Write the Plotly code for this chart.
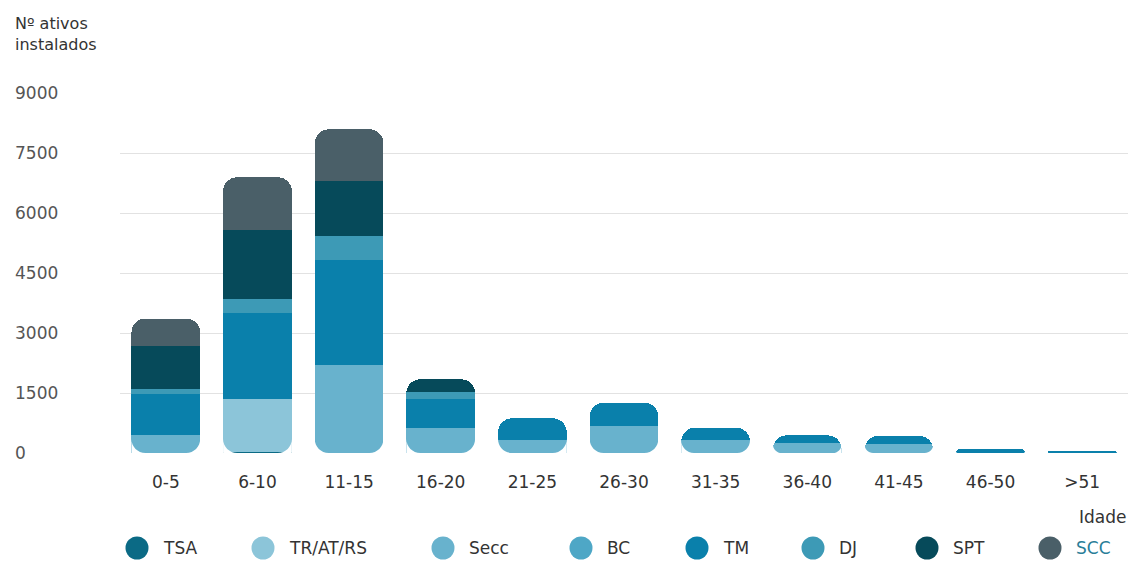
import plotly.graph_objects as go

categories = ["0-5", "6-10", "11-15", "16-20", "21-25", "26-30", "31-35", "36-40", "41-45", "46-50", ">51"]

tsa = [0, 30, 0, 0, 0, 0, 0, 0, 0, 0, 0]
tr_at_rs = [0, 1320, 0, 0, 0, 0, 0, 0, 0, 0, 0]
secc = [450, 0, 2200, 633, 325, 675, 335, 242, 225, 0, 0]
bc = [0, 0, 0, 0, 0, 0, 0, 0, 0, 0, 0]
tm = [1015, 2158, 2625, 709, 542, 583, 300, 200, 200, 90, 35]
dj = [135, 334, 600, 191, 0, 0, 0, 0, 0, 0, 0]
spt = [1070, 1733, 1375, 309, 0, 0, 0, 0, 0, 0, 0]
scc = [690, 1317, 1292, 0, 0, 0, 0, 0, 0, 0, 0]

series_names = ["TSA", "TR/AT/RS", "Secc", "BC", "TM", "DJ", "SPT", "SCC"]
series_values = [tsa, tr_at_rs, secc, bc, tm, dj, spt, scc]
series_colors = ["#0b6a85", "#8cc5d9", "#68b2cd", "#4ea7c6", "#0a80ab", "#3d9ab6", "#064a5a", "#4a5f68"]
legend_text_colors = ["#333333"] * 7 + ["#2a7e98"]

y_ticks = [0, 1500, 3000, 4500, 6000, 7500, 9000]
Y_MAX = 9000

# layout geometry (pixels)
W, H = 1130, 566
ML, MR, MT, MB = 120, 2, 93, 113
PW, PH = W - ML - MR, H - MT - MB
legend_circle_px = [137, 263, 443, 581, 697, 813, 927, 1050]
legend_text_gap = 24
legend_y_px = 548
legend_d = 23
RADIUS = 14
BARGAP = 0.25

FONT = "DejaVu Sans"
fig = go.Figure()

for name, vals, col in zip(series_names, series_values, series_colors):
    fig.add_trace(go.Bar(x=categories, y=vals, name=name, marker=dict(color=col, line=dict(width=0)),
                         showlegend=False))

# white masks rounding the bottom corners of each stacked bar
n_cat = len(categories)
px_per_xunit = PW / n_cat
units_per_px_y = Y_MAX / PH
half_w = (1 - BARGAP) / 2
K = 0.5523
for i in range(n_cat):
    total = sum(s[i] for s in series_values)
    if total <= 0:
        continue
    r_px = min(RADIUS, total / units_per_px_y / 2)
    rx = r_px / px_per_xunit
    ry = r_px * units_per_px_y
    xl = i - half_w
    xr = i + half_w
    left = (f"M{xl},0 L{xl},{ry} C{xl},{ry * (1 - K)} {xl + rx * (1 - K)},0 {xl + rx},0 Z")
    right = (f"M{xr},0 L{xr},{ry} C{xr},{ry * (1 - K)} {xr - rx * (1 - K)},0 {xr - rx},0 Z")
    for p in (left, right):
        fig.add_shape(type="path", path=p, xref="x2", yref="y", fillcolor="white",
                      line=dict(width=0), layer="above")


def px_to_paper_x(px):
    return (px - ML) / PW


def py_to_paper_y(py):
    return (H - MB - py) / PH


ly = py_to_paper_y(legend_y_px)
for name, col, tcol, cx in zip(series_names, series_colors, legend_text_colors, legend_circle_px):
    fig.add_shape(type="circle", xref="paper", yref="paper", xsizemode="pixel", ysizemode="pixel",
                  xanchor=px_to_paper_x(cx), yanchor=ly,
                  x0=-legend_d / 2, x1=legend_d / 2, y0=-legend_d / 2, y1=legend_d / 2,
                  fillcolor=col, line=dict(width=0))
    fig.add_annotation(x=px_to_paper_x(cx + legend_text_gap), xref="paper", y=ly, yref="paper",
                       text=name, showarrow=False, xanchor="left", yanchor="middle",
                       font=dict(family=FONT, size=17, color=tcol))

for v in y_ticks:
    fig.add_annotation(x=0, xref="paper", y=v, yref="y", text=str(v), showarrow=False,
                       xanchor="left", xshift=-107, font=dict(family=FONT, size=17, color="#555555"))

fig.add_annotation(x=0, xref="paper", y=py_to_paper_y(12), yref="paper", text="Nº ativos<br>instalados",
                   showarrow=False, xanchor="left", yanchor="top", xshift=-107, align="left",
                   font=dict(family=FONT, size=16, color="#333333"))
fig.add_annotation(x=1, xref="paper", y=py_to_paper_y(517), yref="paper", text="Idade", showarrow=False,
                   xanchor="right", yanchor="middle", font=dict(family=FONT, size=17, color="#333333"))

fig.update_layout(
    width=W, height=H,
    barmode="stack", bargap=BARGAP, barcornerradius=RADIUS,
    plot_bgcolor="white", paper_bgcolor="white",
    margin=dict(l=ML, r=MR, t=MT, b=MB),
    font=dict(family=FONT, size=17, color="#333333"),
    showlegend=False,
    xaxis=dict(showgrid=False, showline=False, ticks="outside", ticklen=14,
               tickcolor="rgba(0,0,0,0)", tickfont=dict(size=17, color="#333333"),
               categoryorder="array", categoryarray=categories, range=[-0.5, n_cat - 0.5]),
    xaxis2=dict(overlaying="x", range=[-0.5, n_cat - 0.5], visible=False, showgrid=False),
    yaxis=dict(range=[0, Y_MAX], tickvals=y_ticks, showticklabels=False, showgrid=True,
               gridcolor="#e2e2e2", gridwidth=1, zeroline=False),
)

fig.write_html("out.html", config={"displayModeBar": False},
               post_script="document.body.style.margin='0';")
